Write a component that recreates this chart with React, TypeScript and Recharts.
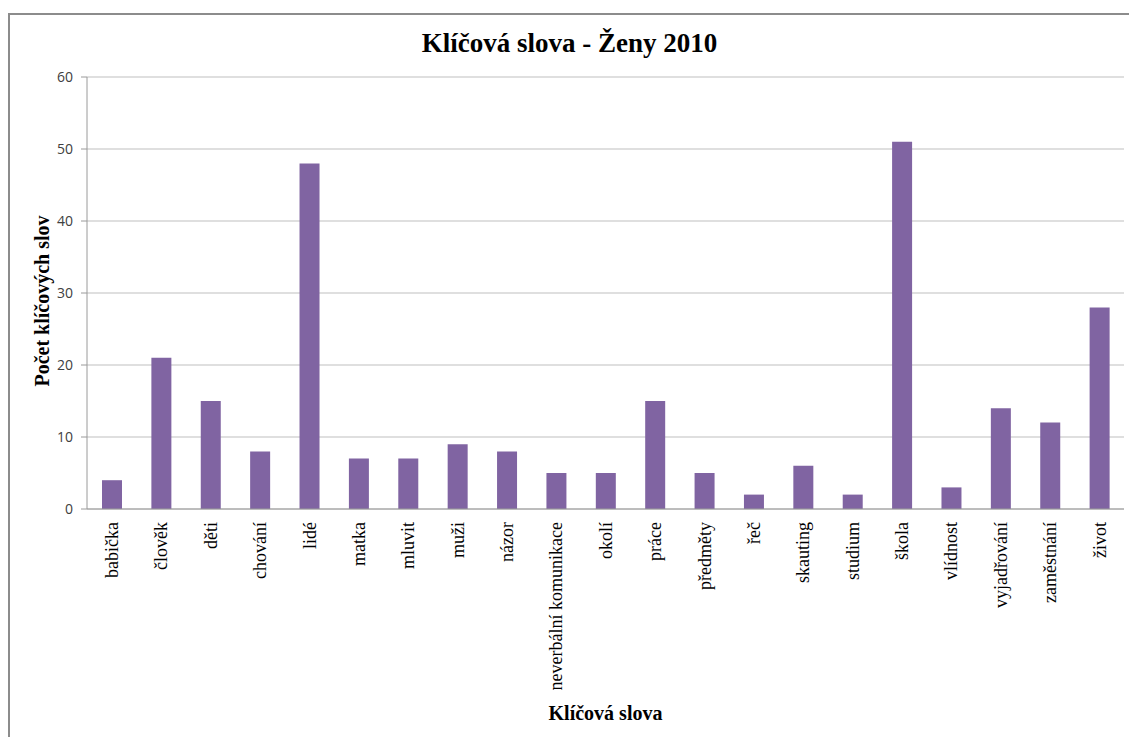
import React from "react";
import { BarChart, Bar, XAxis, YAxis, CartesianGrid } from "recharts";

const CATEGORIES = [
  "babička",
  "člověk",
  "děti",
  "chování",
  "lidé",
  "matka",
  "mluvit",
  "muži",
  "názor",
  "neverbální komunikace",
  "okolí",
  "práce",
  "předměty",
  "řeč",
  "skauting",
  "studium",
  "škola",
  "vlídnost",
  "vyjadřování",
  "zaměstnání",
  "život",
];

const COUNTS = [4, 21, 15, 8, 48, 7, 7, 9, 8, 5, 5, 15, 5, 2, 6, 2, 51, 3, 14, 12, 28];

const Y_TICKS = [0, 10, 20, 30, 40, 50, 60];

const TITLE = "Klíčová slova - Ženy 2010";
const X_TITLE = "Klíčová slova";
const Y_TITLE = "Počet klíčových slov";

const SERIF = "'Liberation Serif', 'Times New Roman', serif";
const SANS = "'Open Sans', 'Liberation Sans', sans-serif";

const W = 1119;
const H = 722;

const data = CATEGORIES.map((name, i) => ({ name, value: COUNTS[i] }));

// rotated category labels, reading bottom-to-top
function CategoryTick({ x, y, payload }: any) {
  return (
    <text
      transform={`translate(${x}, ${y}) rotate(-90)`}
      textAnchor="end"
      dy="0.35em"
      fontFamily={SERIF}
      fontSize={18}
      fill="#000"
    >
      {payload.value}
    </text>
  );
}

function YTitle({ viewBox }: any) {
  const { x, y, height } = viewBox;
  return (
    <text
      transform={`translate(${x + 15}, ${y + height / 2 + 8}) rotate(-90)`}
      textAnchor="middle"
      dy="0.35em"
      fontFamily={SERIF}
      fontSize={20}
      fontWeight="bold"
      fill="#000"
    >
      {Y_TITLE}
    </text>
  );
}

function XTitle({ viewBox }: any) {
  const { x, y, width, height } = viewBox;
  return (
    <text
      x={x + width / 2}
      y={y + height - 17}
      textAnchor="middle"
      fontFamily={SERIF}
      fontSize={20}
      fontWeight="bold"
      fill="#000"
    >
      {X_TITLE}
    </text>
  );
}

export default function App() {
  return (
    <div
      style={{
        position: "fixed",
        left: 8,
        top: 13,
        width: W,
        height: H,
        borderLeft: "2px solid #8c8c8c",
        borderTop: "2px solid #8c8c8c",
        background: "#fff",
        overflow: "hidden",
      }}
    >
      <div
        style={{
          position: "absolute",
          left: 0,
          top: 13,
          width: W,
          textAlign: "center",
          fontFamily: SERIF,
          fontWeight: "bold",
          fontSize: 27,
          lineHeight: "30px",
          color: "#000",
        }}
      >
        {TITLE}
      </div>
      <BarChart
        width={W}
        height={H}
        data={data}
        margin={{ top: 62, right: 5, bottom: 0, left: 17 }}
        barSize={20}
      >
        <CartesianGrid vertical={false} stroke="#bfbfbf" />
        <XAxis
          dataKey="name"
          interval={0}
          height={228}
          tickLine={false}
          tickSize={6}
          tickMargin={7}
          axisLine={{ stroke: "#9a9a9a" }}
          tick={<CategoryTick />}
          label={<XTitle />}
        />
        <YAxis
          width={60}
          domain={[0, 60]}
          ticks={Y_TICKS}
          tickSize={6}
          tickMargin={8}
          axisLine={{ stroke: "#9a9a9a" }}
          tickLine={{ stroke: "#9a9a9a" }}
          tick={{ fill: "#404040", fontSize: 14, fontFamily: SANS }}
          label={<YTitle />}
        />
        <Bar dataKey="value" fill="#8064a2" isAnimationActive={false} />
      </BarChart>
    </div>
  );
}
